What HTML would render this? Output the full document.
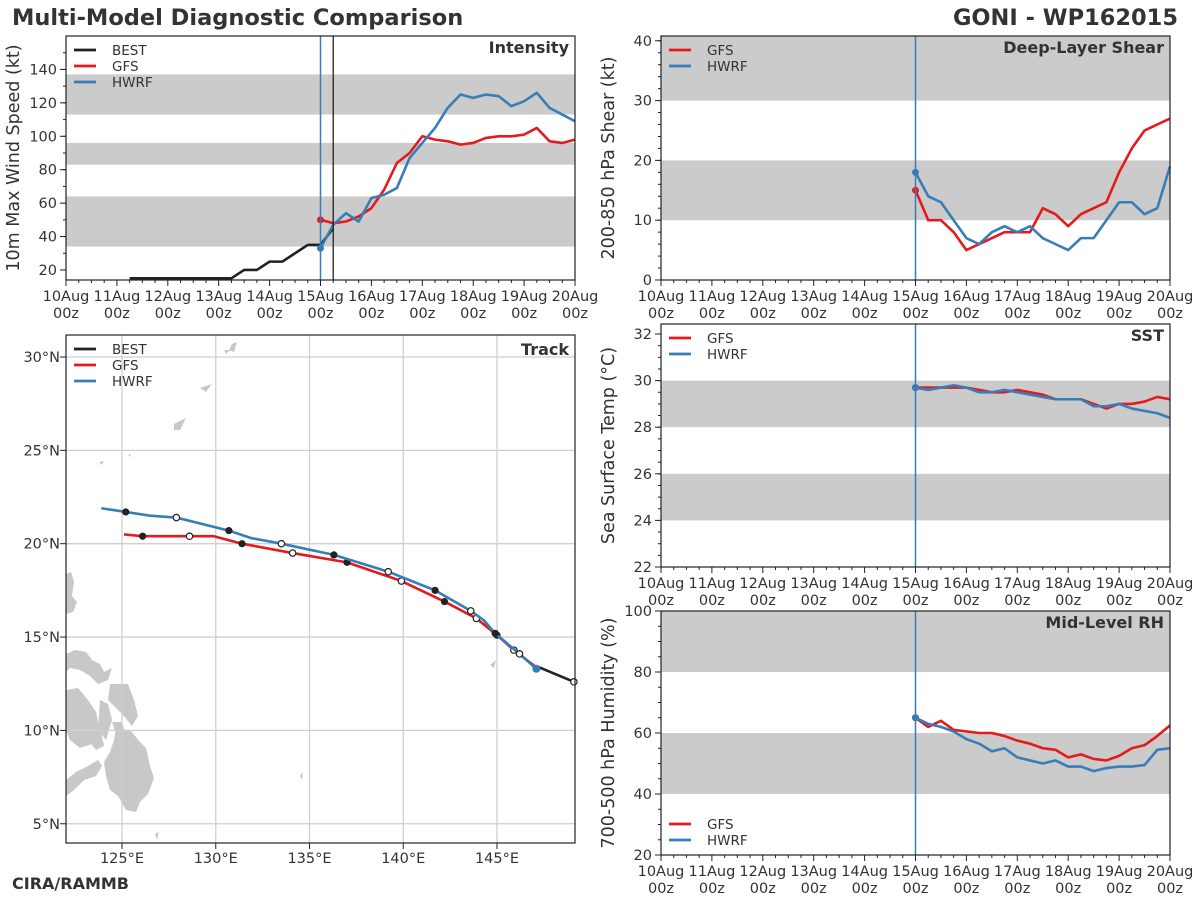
<!DOCTYPE html>
<html><head><meta charset="utf-8">
<style>
body{margin:0;background:#fff;}
svg{display:block;font-family:"DejaVu Sans","Liberation Sans",sans-serif;}
</style></head>
<body>
<svg id="fig" width="1200" height="900" xmlns="http://www.w3.org/2000/svg">
<text x="12" y="25" font-size="22.5" font-weight="bold" fill="#333">Multi-Model Diagnostic Comparison</text>
<text x="1178" y="25" font-size="22.5" font-weight="bold" fill="#333" text-anchor="end">GONI - WP162015</text>
<text x="12" y="889" font-size="16" font-weight="bold" fill="#333">CIRA/RAMMB</text>
</svg>
<script>
// ---- data (6-hourly from 15Aug 00z) ----
const intBestTimes=[1.25,1.5,1.75,2,2.25,2.5,2.75,3,3.25,3.5,3.75,4,4.25,4.5,4.75,5,5.25];
const intBest=[15,15,15,15,15,15,15,15,15,20,20,25,25,30,35,35,45];
const intGFS=[50,48,49,52,57,68,84,90,100,98,97,95,96,99,100,100,101,105,97,96,98];
const intHWRF=[33,47,54,49,63,65,69,87,96,105,117,125,123,125,124,118,121,126,117,113,109];
const shrGFS=[15,10,10,8,5,6,7,8,8,8,12,11,9,11,12,13,18,22,25,26,27];
const shrHWRF=[18,14,13,10,7,6,8,9,8,9,7,6,5,7,7,10,13,13,11,12,19];
const sstGFS=[29.7,29.7,29.7,29.7,29.7,29.6,29.5,29.5,29.6,29.5,29.4,29.2,29.2,29.2,29.0,28.8,29.0,29.0,29.1,29.3,29.2];
const sstHWRF=[29.7,29.6,29.7,29.8,29.7,29.5,29.5,29.6,29.5,29.4,29.3,29.2,29.2,29.2,28.9,28.9,29.0,28.8,28.7,28.6,28.4];
const rhGFS=[65,62,64,61,60.5,60,60,59,57.5,56.5,55,54.5,52,53,51.5,51,52.5,55,56,59,62.5];
const rhHWRF=[65,63,62,60.5,58,56.5,54,55,52,51,50,51,49,49,47.5,48.5,49,49,49.5,54.5,55];
const dayLabels=["10Aug","11Aug","12Aug","13Aug","14Aug","15Aug","16Aug","17Aug","18Aug","19Aug","20Aug"];
const trkHWRFlon=[147.1,146.2,144.9,144.3,143.6,141.7,139.2,136.3,133.5,131.9,130.7,127.9,126.5,125.2,123.9];
const trkHWRFlat=[13.3,14.1,15.2,15.9,16.4,17.5,18.5,19.4,20.0,20.3,20.7,21.4,21.5,21.7,21.9];
const trkHWRFmk=[2,1,2,0,1,2,1,2,1,0,2,1,0,2,0];
const trkGFSlon=[147.2,145.9,145.0,143.9,142.2,139.9,137.0,134.1,131.4,129.9,128.6,126.1,125.1];
const trkGFSlat=[13.3,14.3,15.1,16.0,16.9,18.0,19.0,19.5,20.0,20.4,20.4,20.4,20.5];
const trkGFSmk=[0,1,2,1,2,1,2,1,2,0,1,2,0];
const trkBESTlon=[149.1,147.2];
const trkBESTlat=[12.6,13.4];
const lonTicks=[125,130,135,140,145];
const latTicks=[5,10,15,20,25,30];

const NS="http://www.w3.org/2000/svg";
const svg=document.getElementById('fig');
function mk(tag,attrs,parent){const e=document.createElementNS(NS,tag);for(const k in attrs)e.setAttribute(k,attrs[k]);(parent||svg).appendChild(e);return e;}
const RED="#e41a1c",BLUE="#377eb8",BLK="#222";

function timePanel(o){
  const g=mk('g',{});
  
  
  const X=d=>o.x0+(o.x1-o.x0)*d/10;
  const Y=v=>o.y1-(o.y1-o.y0)*(v-o.vmin)/(o.vmax-o.vmin);
  o.bands.forEach(b=>{const r=mk('rect',{x:o.x0,y:Y(Math.min(b[1],o.vmax)),width:o.x1-o.x0,height:Y(b[0])-Y(Math.min(b[1],o.vmax)),fill:"#cbcbcb"},g);
    });
  o.yt.forEach(v=>{mk('line',{x1:o.x0-6,x2:o.x0,y1:Y(v),y2:Y(v),stroke:"#222"},g);
    const t=mk('text',{x:o.x0-9,y:Y(v)+5,'font-size':14.5,'text-anchor':'end',fill:"#333"},g);t.textContent=v;
    });
  for(let v=o.minor0;v<o.vmax;v+=o.minor){mk('line',{x1:o.x0-3,x2:o.x0,y1:Y(v),y2:Y(v),stroke:"#222"},g);}
  for(let d=0;d<=10;d++){mk('line',{x1:X(d),x2:X(d),y1:o.y1,y2:o.y1+6,stroke:"#222"},g);
    const t=mk('text',{x:X(d),y:o.y1+21,'font-size':14.5,'text-anchor':'middle',fill:"#333"},g);t.textContent=dayLabels[d];
    
    const t2=mk('text',{x:X(d),y:o.y1+38,'font-size':14.5,'text-anchor':'middle',fill:"#333"},g);t2.textContent="00z";
    if(d<10)for(let q=1;q<4;q++)mk('line',{x1:X(d+q/4),x2:X(d+q/4),y1:o.y1,y2:o.y1+3,stroke:"#222"},g);}
  const yl=mk('text',{x:0,y:0,'font-size':17.5,'text-anchor':'middle',fill:"#333",transform:`translate(${o.x0-47},${(o.y0+o.y1)/2}) rotate(-90)`},g);
  yl.textContent=o.ylabel;
  const tt=mk('text',{x:o.x1-6,y:o.y0+17,'font-size':16,'font-weight':'bold','text-anchor':'end',fill:"#333"},g);
  tt.textContent=o.title;
  const line=(ts,vs,col,nm)=>{const p=mk('polyline',{points:vs.map((v,i)=>X(ts[i])+','+Y(v)).join(' '),fill:'none',stroke:col,'stroke-width':2.6,'stroke-linejoin':'round'},g);
    };
  const ft=a=>a.map((_,i)=>5+i*0.25);
  if(o.best){line(intBestTimes,intBest,BLK,'best-line');}
  line(ft(o.gfs),o.gfs,RED,'gfs-line');
  mk('circle',{cx:X(5),cy:Y(o.gfs[0]),r:3.5,fill:RED},g);
  line(ft(o.hwrf),o.hwrf,BLUE,'hwrf-line');
  mk('circle',{cx:X(5),cy:Y(o.hwrf[0]),r:3.5,fill:BLUE},g);
  mk('line',{x1:X(5),x2:X(5),y1:o.y0,y2:o.y1,stroke:BLUE,'stroke-width':1.5},g);
  if(o.best)mk('line',{x1:X(5.25),x2:X(5.25),y1:o.y0,y2:o.y1,stroke:BLK,'stroke-width':1.3},g);
  mk('rect',{x:o.x0,y:o.y0,width:o.x1-o.x0,height:o.y1-o.y0,fill:'none',stroke:'#222','stroke-width':1.2},g);
  const ents=o.best?[["BEST",BLK],["GFS",RED],["HWRF",BLUE]]:[["GFS",RED],["HWRF",BLUE]];
  ents.forEach((e,i)=>{const ly=o.legY+i*16;
    mk('line',{x1:o.x0+8,x2:o.x0+30,y1:ly,y2:ly,stroke:e[1],'stroke-width':2.8},g);
    const t=mk('text',{x:o.x0+46,y:ly+5,'font-size':13.5,fill:"#333"},g);t.textContent=e[0];
    });
}
timePanel({name:'intensity-panel',x0:66,x1:575,y0:36,y1:280,vmin:14,vmax:160,yt:[20,40,60,80,100,120,140],minor0:20,minor:10,bands:[[34,64],[83,96],[113,137]],ylabel:"10m Max Wind Speed (kt)",title:"Intensity",best:true,gfs:intGFS,hwrf:intHWRF,legY:50});
timePanel({name:'shear-panel',x0:661,x1:1170,y0:36,y1:280,vmin:0,vmax:40.8,yt:[0,10,20,30,40],minor0:2,minor:2,bands:[[10,20],[30,41]],ylabel:"200-850 hPa Shear (kt)",title:"Deep-Layer Shear",gfs:shrGFS,hwrf:shrHWRF,legY:50});
timePanel({name:'sst-panel',x0:661,x1:1170,y0:324,y1:567,vmin:22,vmax:32.43,yt:[22,24,26,28,30,32],minor0:22.5,minor:0.5,bands:[[24,26],[28,30]],ylabel:"Sea Surface Temp (°C)",title:"SST",gfs:sstGFS,hwrf:sstHWRF,legY:338});
timePanel({name:'rh-panel',x0:661,x1:1170,y0:611,y1:855,vmin:20,vmax:100,yt:[20,40,60,80,100],minor0:25,minor:5,bands:[[40,60],[80,100]],ylabel:"700-500 hPa Humidity (%)",title:"Mid-Level RH",gfs:rhGFS,hwrf:rhHWRF,legY:824});

// ---- track panel ----
(function(){
  const x0=66,x1=575,y0=335,y1=843;
  const g=mk('g',{});
  
  
  const LX=l=>122+(l-125)*18.75;
  const LY=l=>357+(30-l)*18.67;
  const cp=mk('clipPath',{id:'tc'},g);mk('rect',{x:x0,y:y0,width:x1-x0,height:y1-y0},cp);
  const land=mk('g',{'clip-path':'url(#tc)',fill:'#c8c8c8'},g);
  
  ["66,574 71,572 74,582 72,596 77,602 73,612 66,614",
   "66,654 75,650 86,652 92,660 100,664 104,672 112,668 108,680 98,684 90,676 80,670 70,668 66,672",
   "66,690 78,688 88,700 96,712 100,730 92,744 80,748 70,740 66,730",
   "110,684 128,684 134,700 138,716 132,726 124,716 116,708 108,700",
   "100,700 108,704 112,720 106,740 98,730",
   "90,720 100,728 104,746 96,750 88,740",
   "116,728 130,730 140,742 146,748 150,766 154,778 148,794 140,802 136,812 126,810 118,796 110,790 106,776 104,762 110,752 114,740",
   "66,780 76,772 88,766 98,760 102,766 96,776 84,780 74,790 66,796",
   "112,722 122,722 126,736 118,740",
   "232,344 237,342 234,352 229,350","224,350 230,350 226,354",
   "200,388 212,384 206,392","174,424 186,418 180,430 174,430",
   "99,462 104,461 102,465","128,455 131,454 130,457",
   "300,776 303,772 302,780","490,665 496,660 494,668","155,834 159,832 157,840"
  ].forEach(p=>mk('polygon',{points:p},land));
  lonTicks.forEach(l=>{mk('line',{x1:LX(l),x2:LX(l),y1:y0,y2:y1,stroke:'#cfcfcf','stroke-width':1.3},g);
    mk('line',{x1:LX(l),x2:LX(l),y1:y1,y2:y1+6,stroke:'#222'},g);
    const t=mk('text',{x:LX(l),y:y1+20,'font-size':14.5,'text-anchor':'middle',fill:'#333'},g);t.textContent=l+"°E";
    });
  latTicks.forEach(l=>{mk('line',{x1:x0,x2:x1,y1:LY(l),y2:LY(l),stroke:'#cfcfcf','stroke-width':1.3},g);
    mk('line',{x1:x0-6,x2:x0,y1:LY(l),y2:LY(l),stroke:'#222'},g);
    const t=mk('text',{x:x0-6,y:LY(l)+5,'font-size':14.5,'text-anchor':'end',fill:'#333'},g);t.textContent=l+"°N";
    });
  const trk=(lo,la,mkr,col,nm)=>{const p=mk('polyline',{points:lo.map((v,i)=>LX(v)+','+LY(la[i])).join(' '),fill:'none',stroke:col,'stroke-width':2.6,'stroke-linejoin':'round'},g);
    
    if(mkr)mkr.forEach((m,i)=>{if(m===1)mk('circle',{cx:LX(lo[i]),cy:LY(la[i]),r:3.2,fill:'#fff',stroke:'#222','stroke-width':1.2},g);
      if(m===2)mk('circle',{cx:LX(lo[i]),cy:LY(la[i]),r:3.6,fill:'#222'},g);});};
  trk(trkGFSlon,trkGFSlat,trkGFSmk,RED,'gfs-track');
  trk(trkHWRFlon,trkHWRFlat,trkHWRFmk,BLUE,'hwrf-track');
  trk(trkBESTlon,trkBESTlat,null,BLK,'best-track');
  mk('circle',{cx:LX(trkBESTlon[0]),cy:LY(trkBESTlat[0]),r:3.2,fill:'#fff',stroke:'#222','stroke-width':1.2},g);
  mk('circle',{cx:LX(trkHWRFlon[0]),cy:LY(trkHWRFlat[0]),r:4,fill:BLUE},g);
  mk('rect',{x:x0,y:y0,width:x1-x0,height:y1-y0,fill:'none',stroke:'#222','stroke-width':1.2},g);
  const tt=mk('text',{x:x1-6,y:y0+20,'font-size':16,'font-weight':'bold','text-anchor':'end',fill:'#333'},g);tt.textContent="Track";
  
  [["BEST",BLK],["GFS",RED],["HWRF",BLUE]].forEach((e,i)=>{const ly=349+i*16;
    mk('line',{x1:x0+8,x2:x0+30,y1:ly,y2:ly,stroke:e[1],'stroke-width':2.8},g);
    const t=mk('text',{x:x0+46,y:ly+5,'font-size':13.5,fill:'#333'},g);t.textContent=e[0];
    });
})();
</script>
</body></html>
